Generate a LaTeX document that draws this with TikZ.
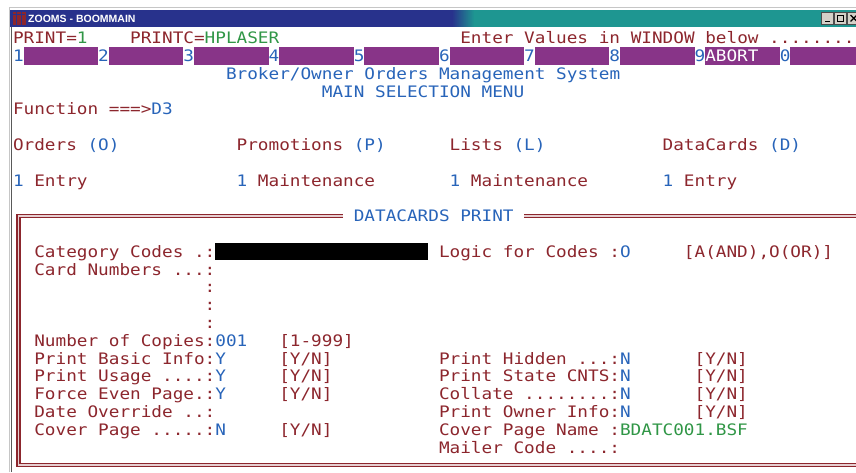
\documentclass[tikz,border=0pt]{standalone}
\usepackage{fontspec}
\newfontfamily\term[FakeStretch=1.12]{DejaVu Sans Mono}
\newfontfamily\winfont{Liberation Sans}

\definecolor{termred}{RGB}{140,38,45}
\definecolor{termblue}{RGB}{40,100,185}
\definecolor{termgreen}{RGB}{48,150,70}
\definecolor{keypurple}{RGB}{136,52,136}
\definecolor{barnavy}{RGB}{40,50,140}
\definecolor{barteal}{RGB}{30,150,145}
\definecolor{btngray}{RGB}{212,208,200}

\tikzset{
  txt/.style={anchor=base west, inner sep=0pt, outer sep=0pt, yshift=-5.8pt,
    font=\term\fontsize{15.8}{18}\selectfont},
  lbl/.style={txt, text=termred},
  inp/.style={txt, text=termblue},
  dflt/.style={txt, text=termgreen},
  frame/.style={draw=termred, line width=1.5pt, double=termred!22, double distance=1.5pt},
  btn/.style={fill=btngray, draw=gray!60!black, line width=.6pt}
}

\begin{document}
\begin{tikzpicture}[x=1pt, y=-1pt]
\useasboundingbox (0,0) rectangle (856,472);
\clip (0,0) rectangle (856,472);

% window edge and title bar
\draw[gray!45, line width=1pt] (9,472) -- (9,7.5) -- (856,7.5);
\draw[black!65, line width=1pt] (11,26) -- (11,472);
\fill[barnavy] (10,10) rectangle (452,26.5);
\shade[left color=barnavy, right color=barteal] (452,10) rectangle (474,26.5);
\fill[barteal] (474,10) rectangle (856,26.5);
\fill[termred] (12.5,12) rectangle (25.5,24.5);
\draw[barnavy, line width=.8pt] (13,14) -- (25,14) (16,12) -- (16,24.5) (21,12) -- (21,24.5);
\node[anchor=west, inner sep=0pt, text=white, font=\winfont\bfseries\fontsize{10.5}{12}\selectfont] (title) at (28,18.5) {ZOOMS - BOOMMAIN};

\foreach \bx in {821.5,834,847.5}
  \draw[btn] (\bx,12.5) rectangle ++(12,11.5);
\fill[black] (824.5,20.5) rectangle (830,22);
\draw[black, line width=.8pt] (837,15) rectangle (843.5,21.5);
\draw[black, line width=1.6pt] (837,15.4) -- (843.5,15.4);
\draw[black, line width=1.2pt] (850.5,15) -- (857,21.5) (850.5,21.5) -- (857,15);

\begin{scope}[shift={(13,37.8)}, x=10.65pt, y=-17.8pt]

% top lines
\node[lbl] (print) at (0,0) {PRINT=};
\node[dflt] (printv) at (6,0) {1};
\node[lbl] (printc) at (11,0) {PRINTC=};
\node[dflt] (printcv) at (18,0) {HPLASER};
\node[lbl] (enter) at (42,0) {Enter Values in WINDOW below ........};

% function keys
\foreach \d [count=\k from 0] in {1,2,3,4,5,6,7,8,9,0}{
  \fill[keypurple] ({8*\k+1},0.5) rectangle ({8*\k+8},1.5);
  \node[inp] (key\d) at ({8*\k},1) {\d};
}
\node[txt, text=white] (abort) at (65,1) {ABORT};

\node[inp] (sysname) at (20,2) {Broker/Owner Orders Management System};
\node[inp] (menu) at (29,3) {MAIN SELECTION MENU};
\node[lbl] (func) at (0,4) {Function ===>};
\node[inp] (funcv) at (13,4) {D3};

% menu groups
\foreach \c/\p/\grp/\key/\entry in {0/7/Orders/O/Entry, 21/32/Promotions/P/Maintenance,
    41/47/Lists/L/Maintenance, 61/71/DataCards/D/Entry}{
  \node[lbl] (grp\key) at (\c,6) {\grp};
  \node[inp] (grpkey\key) at (\p,6) {(\key)};
  \node[inp] (num\key) at (\c,8) {1};
  \node[lbl] (entry\key) at ({\c+2},8) {\entry};
}

% print window
\draw[frame] (31,10) -- (0.5,10) -- (0.5,24) -- (80,24);
\draw[frame] (48,10) -- (80,10);
\node[inp] (wintitle) at (32,10) {DATACARDS PRINT};

\fill[black] (19,11.5) rectangle (39,12.5);

\begin{scope}[termred]
\foreach \r/\t in {12/{Category Codes .:}, 13/{Card Numbers ...:}, 17/{Number of Copies:},
    18/{Print Basic Info:}, 19/{Print Usage ....:}, 20/{Force Even Page.:},
    21/{Date Override ..:}, 22/{Cover Page .....:}}
  \node[lbl] (lf\r) at (2,\r) {\t};
\foreach \r in {14,15,16}
  \node[lbl] (cont\r) at (18,\r) {:};
\foreach \r/\t in {17/{[1-999]}, 18/{[Y/N]}, 19/{[Y/N]}, 20/{[Y/N]}, 22/{[Y/N]}}
  \node[lbl] (lr\r) at (25,\r) {\t};

\foreach \r/\t in {12/{Logic for Codes :}, 18/{Print Hidden ...:}, 19/{Print State CNTS:},
    20/{Collate ........:}, 21/{Print Owner Info:}, 22/{Cover Page Name :}, 23/{Mailer Code ....:}}
  \node[lbl] (rf\r) at (40,\r) {\t};
\node[lbl] (rr12) at (63,12) {[A(AND),O(OR)]};
\foreach \r in {18,19,20,21}
  \node[lbl] (rr\r) at (64,\r) {[Y/N]};
\end{scope}

\foreach \r/\v in {17/001, 18/Y, 19/Y, 20/Y, 22/N}
  \node[inp] (lv\r) at (19,\r) {\v};
\foreach \r/\v in {12/O, 18/N, 19/N, 20/N, 21/N}
  \node[inp] (rv\r) at (57,\r) {\v};
\node[dflt] (rv22) at (57,22) {BDATC001.BSF};

\end{scope}
\end{tikzpicture}
\end{document}
